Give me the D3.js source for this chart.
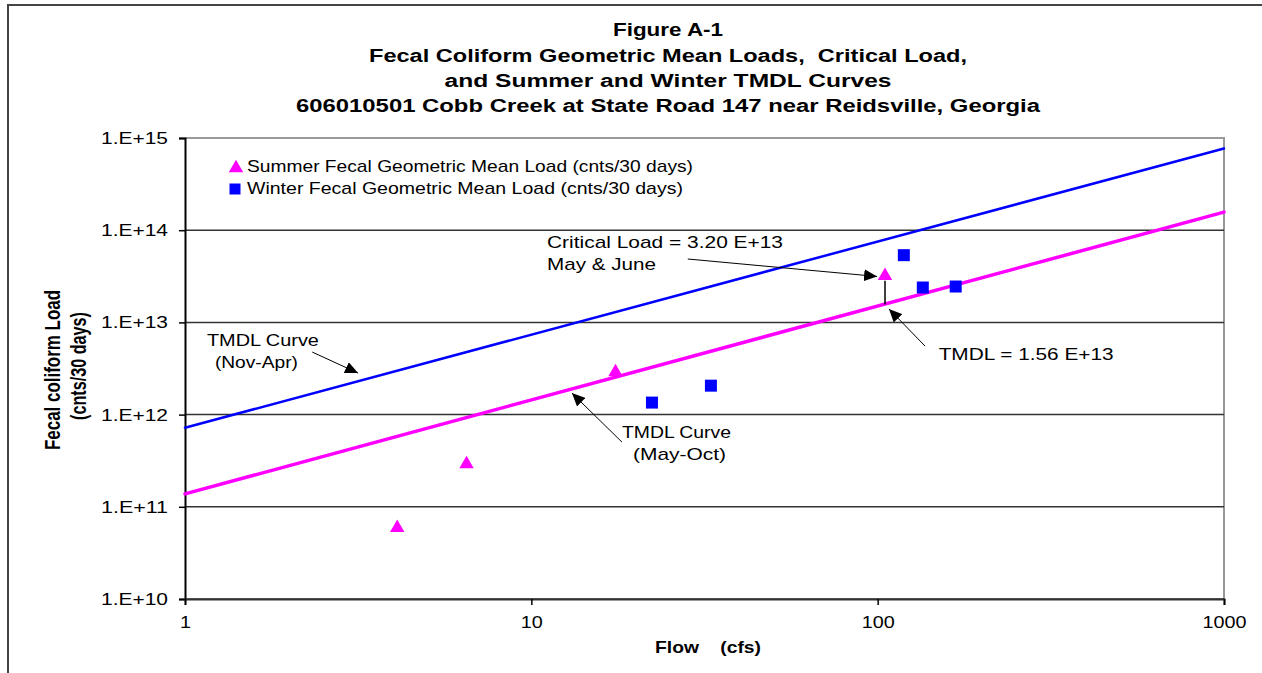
<!DOCTYPE html>
<html>
<head>
<meta charset="utf-8">
<script src="https://cdn.jsdelivr.net/npm/d3@7"></script>
<style>
  html, body { margin: 0; padding: 0; background: #fff; }
  svg { display: block; }
  text { font-family: "Liberation Sans", Arial, sans-serif; fill: #000; white-space: pre; }
</style>
</head>
<body>
<svg id="chart" width="1262" height="673"></svg>
<script>
// ---------------- data ----------------
const titleLines = [
  "Figure A-1",
  "Fecal Coliform Geometric Mean Loads,  Critical Load,",
  "and Summer and Winter TMDL Curves",
  "606010501 Cobb Creek at State Road 147 near Reidsville, Georgia"
];
const summerFlow = [4.1, 6.5, 17.5, 105];
const summerLoad = [5.9e10, 2.9e11, 2.9e12, 3.2e13];
const winterFlow = [22.3, 33, 119, 135, 168];
const winterLoad = [1.35e12, 2.06e12, 5.36e13, 2.39e13, 2.45e13];
const summerTmdlFlow = [1, 1000];
const summerTmdlLoad = [1.38e11, 1.57e14];
const winterTmdlFlow = [1, 1000];
const winterTmdlLoad = [7.2e11, 7.7e14];
const xTickValues = [1, 10, 100, 1000];
const xTickLabels = ["1", "10", "100", "1000"];
const yTickValues = [1e10, 1e11, 1e12, 1e13, 1e14, 1e15];
const yTickLabels = ["1.E+10", "1.E+11", "1.E+12", "1.E+13", "1.E+14", "1.E+15"];
const legendLabels = [
  "Summer Fecal Geometric Mean Load (cnts/30 days)",
  "Winter Fecal Geometric Mean Load (cnts/30 days)"
];
const criticalFlow = 105;
const criticalLoad = 3.2e13;
const tmdlLoad = 1.56e13;
// annotations: text lines with anchor (flow, load) and arrow from -> to in data units
const annotations = [
  { lines: ["Critical Load = 3.20 E+13", "May & June"], at: [[11.1, 6.4e13], [11.1, 3.7e13]],
    widths: [236, 109], from: [28.3, 4.87e13], to: [99.6, 3.15e13] },
  { lines: ["TMDL = 1.56 E+13"], at: [[150, 3.9e12]],
    widths: [175], from: [137, 5.54e12], to: [107.8, 1.40e13] },
  { lines: ["TMDL Curve", "(Nov-Apr)"], at: [[1.157, 5.54e12], [1.22, 3.2e12]],
    widths: [112, 83], from: [2.33, 4.77e12], to: [3.16, 2.82e12] },
  { lines: ["TMDL Curve", "(May-Oct)"], at: [[18.27, 5.56e11], [19.67, 3.21e11]],
    widths: [109, 93], from: [18.27, 5.03e11], to: [13.1, 1.71e12] }
];

// ---------------- layout ----------------
const svg = d3.select("#chart");
const plot = { left: 185, right: 1224, top: 138, bottom: 599 };
const x = d3.scaleLog().domain([1, 1000]).range([plot.left, plot.right]);
const y = d3.scaleLog().domain([1e10, 1e15]).range([plot.bottom, plot.top]);
const MAGENTA = "#ff00ff", BLUE = "#0000ff";

function fit(sel, w) { sel.attr("textLength", w).attr("lengthAdjust", "spacingAndGlyphs"); }

// outer frame
svg.append("path").attr("d", "M8,673 L8,5 L1262,5")
  .attr("fill", "none").attr("stroke", "#444").attr("stroke-width", 2);

// title
const titleWidths = [110, 598, 447, 744];
const titleBase = [36, 62, 87, 112];
titleLines.forEach((t, i) => {
  svg.append("text").attr("x", 668).attr("y", titleBase[i])
    .attr("text-anchor", "middle").attr("font-size", 18).attr("font-weight", "bold")
    .text(t).call(fit, titleWidths[i]);
});

// plot border top/right
svg.append("path")
  .attr("d", `M${plot.left},${plot.top} L${plot.right},${plot.top} L${plot.right},${plot.bottom}`)
  .attr("fill", "none").attr("stroke", "#999").attr("stroke-width", 2);

// gridlines
svg.append("g").selectAll("line").data(yTickValues.slice(0, -1)).join("line")
  .attr("x1", plot.left).attr("x2", plot.right)
  .attr("y1", d => y(d)).attr("y2", d => y(d))
  .attr("stroke", "#333").attr("stroke-width", 1.5);

// y axis
const yAxis = svg.append("g").attr("transform", `translate(${plot.left},0)`)
  .call(d3.axisLeft(y).tickValues(yTickValues).tickFormat((d, i) => yTickLabels[i])
    .tickSize(6).tickPadding(11));
yAxis.select(".domain").attr("stroke", "#000").attr("stroke-width", 2);
yAxis.selectAll(".tick line").attr("stroke", "#000").attr("stroke-width", 1.5);
yAxis.selectAll(".tick text").attr("font-size", 17).attr("font-family", null)
  .each(function () { d3.select(this).call(fit, 67); });

// x axis
const xAxis = svg.append("g").attr("transform", `translate(0,${plot.bottom})`)
  .call(d3.axisBottom(x).tickValues(xTickValues).tickFormat((d, i) => xTickLabels[i])
    .tickSize(6).tickPadding(11));
xAxis.select(".domain").attr("stroke", "#333").attr("stroke-width", 2);
xAxis.selectAll(".tick line").attr("stroke", "#000").attr("stroke-width", 1.5);
xAxis.selectAll(".tick text").attr("font-size", 17).attr("font-family", null)
  .each(function (d, i) { d3.select(this).call(fit, 11 * xTickLabels[i].length); });

// axis titles
svg.append("text").attr("x", 655).attr("y", 653).attr("font-size", 17).attr("font-weight", "bold")
  .text("Flow    (cfs)").call(fit, 106);
svg.append("text").attr("transform", "translate(60,370) scale(1.35,1) rotate(-90)")
  .attr("text-anchor", "middle").attr("font-size", 17).attr("font-weight", "bold")
  .text("Fecal coliform Load").call(fit, 160);
svg.append("text").attr("transform", "translate(86,366) scale(1.35,1) rotate(-90)")
  .attr("text-anchor", "middle").attr("font-size", 17).attr("font-weight", "bold")
  .text("(cnts/30 days)").call(fit, 108);

// TMDL curves
const line = d3.line().x(d => x(d[0])).y(d => y(d[1]));
svg.append("path").datum(d3.zip(summerTmdlFlow, summerTmdlLoad)).attr("d", line)
  .attr("fill", "none").attr("stroke", MAGENTA).attr("stroke-width", 3.5).attr("stroke-linecap", "round");
svg.append("path").datum(d3.zip(winterTmdlFlow, winterTmdlLoad)).attr("d", line)
  .attr("fill", "none").attr("stroke", BLUE).attr("stroke-width", 2.5).attr("stroke-linecap", "round");

// arrow marker
svg.append("defs").append("marker").attr("id", "ah")
  .attr("markerUnits", "userSpaceOnUse").attr("markerWidth", 14).attr("markerHeight", 12)
  .attr("refX", 13).attr("refY", 6).attr("orient", "auto")
  .append("path").attr("d", "M0,0 L13,6 L0,12 Z").attr("fill", "#000");

// vertical line from TMDL to critical load
svg.append("line").attr("x1", x(criticalFlow)).attr("x2", x(criticalFlow))
  .attr("y1", y(tmdlLoad)).attr("y2", y(criticalLoad) + 5)
  .attr("stroke", "#000").attr("stroke-width", 1.5);

// annotations
annotations.forEach(a => {
  svg.append("line")
    .attr("x1", x(a.from[0])).attr("y1", y(a.from[1]))
    .attr("x2", x(a.to[0])).attr("y2", y(a.to[1]))
    .attr("stroke", "#000").attr("stroke-width", 1).attr("marker-end", "url(#ah)");
  a.lines.forEach((t, i) => {
    svg.append("text").attr("x", x(a.at[i][0])).attr("y", y(a.at[i][1]))
      .attr("font-size", 17).text(t).call(fit, a.widths[i]);
  });
});

// markers
const tri = d3.symbol().type(d3.symbolTriangle).size(90);
const sq = d3.symbol().type(d3.symbolSquare).size(144);
svg.append("g").selectAll("path").data(d3.zip(summerFlow, summerLoad)).join("path")
  .attr("transform", d => `translate(${x(d[0])},${y(d[1])})`).attr("d", tri).attr("fill", MAGENTA);
svg.append("g").selectAll("path").data(d3.zip(winterFlow, winterLoad)).join("path")
  .attr("transform", d => `translate(${x(d[0])},${y(d[1])})`).attr("d", sq).attr("fill", BLUE);

// legend
const legend = svg.append("g");
legend.append("path").attr("transform", "translate(236,168)").attr("d", tri).attr("fill", MAGENTA);
legend.append("path").attr("transform", "translate(235,189)")
  .attr("d", d3.symbol().type(d3.symbolSquare).size(121)).attr("fill", BLUE);
const legendWidths = [446, 436];
legendLabels.forEach((t, i) => {
  legend.append("text").attr("x", 247).attr("y", 172 + i * 22).attr("font-size", 17)
    .text(t).call(fit, legendWidths[i]);
});
</script>
</body>
</html>
